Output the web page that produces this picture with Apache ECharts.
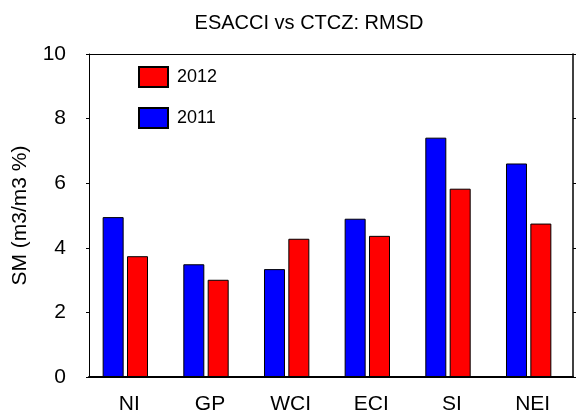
<!DOCTYPE html>
<html>
<head>
<meta charset="utf-8">
<script src="https://cdn.jsdelivr.net/npm/echarts@6/dist/echarts.min.js"></script>
<style>
  html, body { margin: 0; padding: 0; background: #fff; }
  #chart { width: 576px; height: 417px; }
</style>
</head>
<body>
<div id="chart"></div>
<script>
// Regions and RMSD values (SM, m3/m3 %)
const regions = ['NI', 'GP', 'WCI', 'ECI', 'SI', 'NEI'];
const rmsd2011 = [4.95, 3.49, 3.34, 4.90, 7.41, 6.61];
const rmsd2012 = [3.74, 3.01, 4.28, 4.37, 5.83, 4.75];
const yTicks = [0, 2, 4, 6, 8, 10];

const FONT = 'Liberation Sans, Arial, sans-serif';
const chart = echarts.init(document.getElementById('chart'), null, { renderer: 'canvas' });

const plot = { left: 89, top: 54, width: 484, height: 323 };

const yBase = {
  type: 'value', min: yTicks[0], max: yTicks[yTicks.length - 1], interval: 2,
  splitLine: { show: false }
};

chart.setOption({
  animation: false,
  backgroundColor: '#fff',
  title: {
    text: 'ESACCI vs CTCZ: RMSD',
    left: 304, top: 8, textAlign: 'center',
    textStyle: { fontFamily: FONT, fontSize: 20, fontWeight: 'normal', color: '#000' }
  },
  legend: {
    orient: 'vertical', left: 133, top: 61,
    itemWidth: 29, itemHeight: 20, itemGap: 19,
    icon: 'rect',
    data: ['2012', '2011'],
    textStyle: { fontFamily: FONT, fontSize: 18, color: '#000', padding: [0, 0, 0, 4] }
  },
  grid: [
    // frame and axes
    { left: plot.left, top: plot.top, width: plot.width, height: plot.height },
    // bars, drawn slightly left of the tick positions
    { left: plot.left - 4, top: plot.top, width: plot.width, height: plot.height }
  ],
  xAxis: [
    {
      gridIndex: 0, type: 'category', data: regions, position: 'bottom',
      axisLine: { onZero: false, lineStyle: { color: '#000', width: 2 } },
      axisTick: { alignWithLabel: true, length: 4, lineStyle: { color: '#000' } },
      axisLabel: { fontFamily: FONT, fontSize: 21, color: '#000', margin: 17 },
      z: 5
    },
    {
      gridIndex: 0, type: 'category', data: regions, position: 'top',
      axisLine: { show: true, onZero: false, lineStyle: { color: '#000', width: 1 } },
      axisTick: { show: false }, axisLabel: { show: false }
    },
    {
      gridIndex: 1, type: 'category', data: regions, show: false
    }
  ],
  yAxis: [
    Object.assign({}, yBase, {
      gridIndex: 0, position: 'left',
      name: 'SM (m3/m3 %)', nameLocation: 'middle', nameGap: 58,
      nameTextStyle: { fontFamily: FONT, fontSize: 21, color: '#000' },
      axisLine: { show: true, onZero: false, lineStyle: { color: '#000', width: 1 } },
      axisTick: { show: true, length: 3, lineStyle: { color: '#000' } },
      axisLabel: { fontFamily: FONT, fontSize: 21, color: '#000', margin: 23 }
    }),
    Object.assign({}, yBase, {
      gridIndex: 0, position: 'right',
      axisLine: { show: true, onZero: false, lineStyle: { color: '#000', width: 1.5 } },
      axisTick: { show: true, length: 3, lineStyle: { color: '#000' } },
      axisLabel: { show: false }
    }),
    Object.assign({}, yBase, { gridIndex: 1, show: false })
  ],
  series: [
    {
      name: '2011', type: 'bar', xAxisIndex: 2, yAxisIndex: 2,
      data: rmsd2011, barWidth: 21, barGap: '16%',
      itemStyle: { color: '#0000ff', borderColor: '#000', borderWidth: 1 }
    },
    {
      name: '2012', type: 'bar', xAxisIndex: 2, yAxisIndex: 2,
      data: rmsd2012, barWidth: 21,
      itemStyle: { color: '#ff0000', borderColor: '#000', borderWidth: 1 }
    }
  ]
});
</script>
</body>
</html>
